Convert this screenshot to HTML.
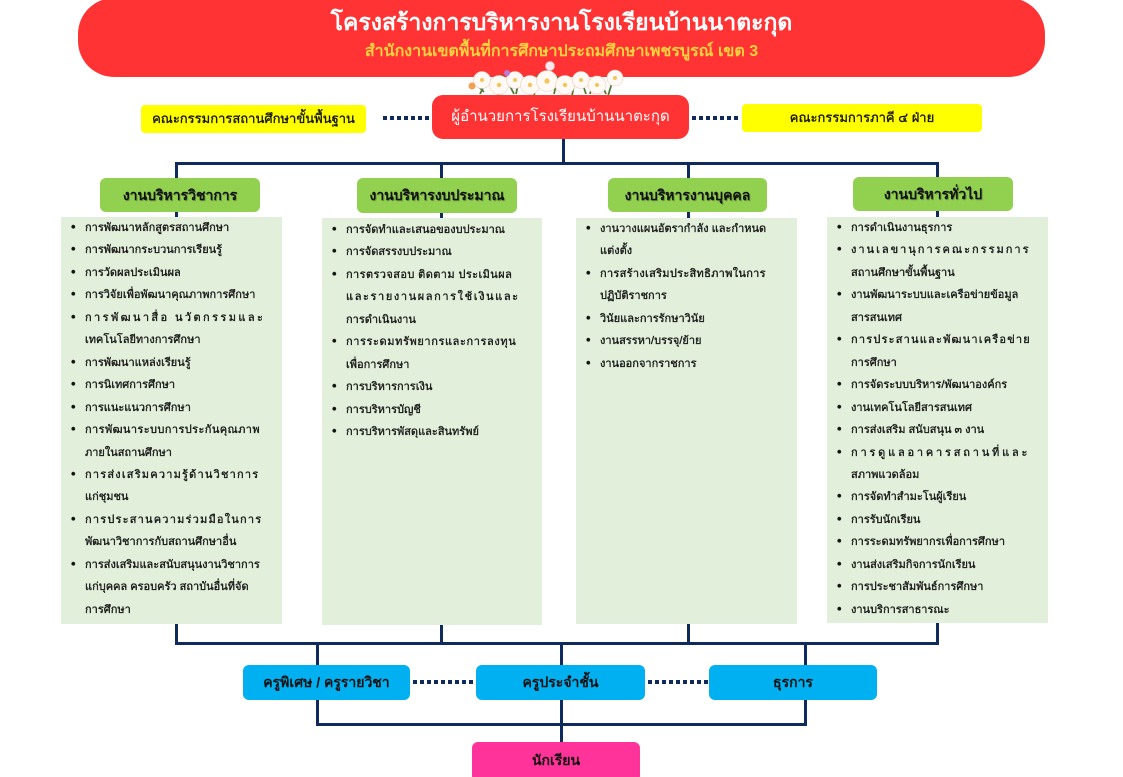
<!DOCTYPE html>
<html><head><meta charset="utf-8">
<style>
*{margin:0;padding:0;box-sizing:border-box}
html,body{width:1123px;height:777px;overflow:hidden;background:#fff}
body{position:relative;font-family:"Liberation Sans","Noto Sans CJK SC",sans-serif;color:#1a1a1a}
.a{position:absolute}
.ln{position:absolute;background:#0f2a5c}
.dot{position:absolute;height:4px;background:repeating-linear-gradient(90deg,#0f2a5c 0 4px,transparent 4px 7px)}
.banner{left:78px;top:-2px;width:967px;height:79px;background:#ff3333;border-radius:36px}
.t1{left:78px;width:967px;top:7px;text-align:center;color:#fff;font-size:23px;line-height:30px;font-weight:bold}
.t2{left:78px;width:967px;top:40px;text-align:center;color:#ffd23f;font-size:16px;line-height:24px;font-weight:bold}
.dir{left:432px;top:95px;width:257px;height:44px;background:#ff3333;border-radius:11px;color:#fff;font-size:15px;line-height:44px;text-align:center}
.yel{background:#ffff00;border-radius:4px;font-size:13px;text-align:center;color:#111;-webkit-text-stroke:.3px #111}
.hd{background:#92d050;border-radius:6px;height:34px;line-height:34px;text-align:center;font-weight:bold;font-size:14px;color:#111;text-shadow:1px 1px 0 rgba(0,0,0,.25)}
.box{background:#e2efda}
.list{position:absolute;font-size:11px;line-height:22.45px;color:#111;-webkit-text-stroke:.35px #222}
.list div{position:relative;padding-left:24px;white-space:nowrap}
.list div.b::before{content:"•";position:absolute;left:10px;top:-1px;font-size:13px}
.cy{background:#00b0f0;border-radius:6px;height:35px;line-height:35px;text-align:center;font-weight:bold;font-size:14px;color:#111}
.pk{background:#ff3399;border-radius:6px;height:40px;line-height:36px;text-align:center;font-weight:bold;font-size:14px;color:#111}
</style></head>
<body>

<div class="a banner"></div>
<div class="a t1">โครงสร้างการบริหารงานโรงเรียนบ้านนาตะกุด</div>
<div class="a t2">สำนักงานเขตพื้นที่การศึกษาประถมศึกษาเพชรบูรณ์ เขต 3</div>

<svg class="a" style="left:468px;top:60px" width="160" height="38" viewBox="0 0 160 38">
 <g stroke="#4f7a3a" stroke-width="1.8" fill="none">
  <path d="M12 34 L20 18 M30 36 L34 14 M48 34 L52 16 M66 36 L70 14 M86 34 L90 16 M104 36 L108 14 M122 34 L126 18 M140 36 L146 16"/>
  <path d="M6 22 L16 32 M40 22 L46 34 M58 20 L62 34 M96 20 L100 34 M114 22 L118 34 M132 20 L138 34"/>
 </g>
 <g fill="#fffaf5" stroke="#eacfc2" stroke-width=".6">
  <circle cx="14" cy="20" r="8.5"/><circle cx="31" cy="25" r="9.5"/><circle cx="47" cy="20" r="8.5"/>
  <circle cx="62" cy="25" r="9.5"/><circle cx="79" cy="21" r="10.5"/><circle cx="97" cy="25" r="9.5"/>
  <circle cx="113" cy="20" r="8.5"/><circle cx="129" cy="25" r="9"/><circle cx="147" cy="18" r="8"/>
  <circle cx="82" cy="6" r="4.5" fill="#fde8ee"/>
 </g>
 <g fill="#f3c55a">
  <circle cx="14" cy="20" r="2"/><circle cx="31" cy="25" r="2.2"/><circle cx="47" cy="20" r="2"/>
  <circle cx="62" cy="25" r="2.2"/><circle cx="79" cy="21" r="2.6"/><circle cx="97" cy="25" r="2.2"/>
  <circle cx="113" cy="20" r="2"/><circle cx="129" cy="25" r="2"/><circle cx="147" cy="18" r="2"/>
 </g>
 <circle cx="39" cy="13" r="3" fill="#b77ad6"/><circle cx="4" cy="26" r="3.5" fill="#f0a050"/>
</svg>

<!-- top row -->
<div class="a yel" style="left:141px;top:105px;width:225px;height:28px;line-height:28px">คณะกรรมการสถานศึกษาขั้นพื้นฐาน</div>
<div class="dot" style="left:383px;top:116px;width:48px"></div>
<div class="a dir">ผู้อำนวยการโรงเรียนบ้านนาตะกุด</div>
<div class="dot" style="left:692px;top:116px;width:48px"></div>
<div class="a yel" style="left:742px;top:104px;width:240px;height:28px;line-height:28px">คณะกรรมการภาคี ๔ ฝ่าย</div>

<!-- connectors top -->
<div class="ln" style="left:562px;top:139px;width:3px;height:25px"></div>
<div class="ln" style="left:175px;top:162px;width:764px;height:3px"></div>
<div class="ln" style="left:175px;top:162px;width:3px;height:56px"></div>
<div class="ln" style="left:440px;top:162px;width:3px;height:57px"></div>
<div class="ln" style="left:687px;top:162px;width:3px;height:57px"></div>
<div class="ln" style="left:936px;top:162px;width:3px;height:56px"></div>

<!-- headers -->
<div class="a hd" style="left:100px;top:178px;width:160px">งานบริหารวิชาการ</div>
<div class="a hd" style="left:357px;top:178px;width:160px;height:35px">งานบริหารงบประมาณ</div>
<div class="a hd" style="left:608px;top:178px;width:159px">งานบริหารงานบุคคล</div>
<div class="a hd" style="left:853px;top:177px;width:160px">งานบริหารทั่วไป</div>

<!-- content boxes -->
<div class="a box" style="left:61px;top:217px;width:221px;height:407px"></div>
<div class="a box" style="left:322px;top:218px;width:220px;height:407px"></div>
<div class="a box" style="left:576px;top:218px;width:221px;height:406px"></div>
<div class="a box" style="left:827px;top:217px;width:221px;height:406px"></div>

<div class="list" style="left:61px;top:217px;width:221px">
 <div class="b">การพัฒนาหลักสูตรสถานศึกษา</div>
 <div class="b">การพัฒนากระบวนการเรียนรู้</div>
 <div class="b">การวัดผลประเมินผล</div>
 <div class="b">การวิจัยเพื่อพัฒนาคุณภาพการศึกษา</div>
 <div class="b" style="letter-spacing:2.4px">การพัฒนาสื่อ นวัตกรรมและ</div>
 <div>เทคโนโลยีทางการศึกษา</div>
 <div class="b">การพัฒนาแหล่งเรียนรู้</div>
 <div class="b">การนิเทศการศึกษา</div>
 <div class="b">การแนะแนวการศึกษา</div>
 <div class="b" style="letter-spacing:.4px">การพัฒนาระบบการประกันคุณภาพ</div>
 <div>ภายในสถานศึกษา</div>
 <div class="b" style="letter-spacing:1.2px">การส่งเสริมความรู้ด้านวิชาการ</div>
 <div>แก่ชุมชน</div>
 <div class="b" style="letter-spacing:1.2px">การประสานความร่วมมือในการ</div>
 <div>พัฒนาวิชาการกับสถานศึกษาอื่น</div>
 <div class="b">การส่งเสริมและสนับสนุนงานวิชาการ</div>
 <div>แก่บุคคล ครอบครัว สถาบันอื่นที่จัด</div>
 <div>การศึกษา</div>
</div>

<div class="list" style="left:322px;top:219px;width:220px">
 <div class="b">การจัดทำและเสนอของบประมาณ</div>
 <div class="b">การจัดสรรงบประมาณ</div>
 <div class="b" style="letter-spacing:.4px">การตรวจสอบ ติดตาม ประเมินผล</div>
 <div style="letter-spacing:1.6px">และรายงานผลการใช้เงินและ</div>
 <div>การดำเนินงาน</div>
 <div class="b" style="letter-spacing:.6px">การระดมทรัพยากรและการลงทุน</div>
 <div>เพื่อการศึกษา</div>
 <div class="b">การบริหารการเงิน</div>
 <div class="b">การบริหารบัญชี</div>
 <div class="b">การบริหารพัสดุและสินทรัพย์</div>
</div>

<div class="list" style="left:576px;top:218px;width:221px">
 <div class="b">งานวางแผนอัตรากำลัง และกำหนด</div>
 <div>แต่งตั้ง</div>
 <div class="b" style="letter-spacing:.3px">การสร้างเสริมประสิทธิภาพในการ</div>
 <div>ปฏิบัติราชการ</div>
 <div class="b">วินัยและการรักษาวินัย</div>
 <div class="b">งานสรรหา/บรรจุ/ย้าย</div>
 <div class="b">งานออกจากราชการ</div>
</div>

<div class="list" style="left:827px;top:217px;width:221px">
 <div class="b">การดำเนินงานธุรการ</div>
 <div class="b" style="letter-spacing:2px">งานเลขานุการคณะกรรมการ</div>
 <div>สถานศึกษาขั้นพื้นฐาน</div>
 <div class="b">งานพัฒนาระบบและเครือข่ายข้อมูล</div>
 <div>สารสนเทศ</div>
 <div class="b" style="letter-spacing:1.2px">การประสานและพัฒนาเครือข่าย</div>
 <div>การศึกษา</div>
 <div class="b">การจัดระบบบริหาร/พัฒนาองค์กร</div>
 <div class="b">งานเทคโนโลยีสารสนเทศ</div>
 <div class="b">การส่งเสริม สนับสนุน ๓ งาน</div>
 <div class="b" style="letter-spacing:2.8px">การดูแลอาคารสถานที่และ</div>
 <div>สภาพแวดล้อม</div>
 <div class="b">การจัดทำสำมะโนผู้เรียน</div>
 <div class="b">การรับนักเรียน</div>
 <div class="b">การระดมทรัพยากรเพื่อการศึกษา</div>
 <div class="b">งานส่งเสริมกิจการนักเรียน</div>
 <div class="b">การประชาสัมพันธ์การศึกษา</div>
 <div class="b">งานบริการสาธารณะ</div>
</div>

<!-- connectors bottom -->
<div class="ln" style="left:175px;top:624px;width:3px;height:20px"></div>
<div class="ln" style="left:440px;top:625px;width:3px;height:19px"></div>
<div class="ln" style="left:687px;top:624px;width:3px;height:20px"></div>
<div class="ln" style="left:936px;top:623px;width:3px;height:21px"></div>
<div class="ln" style="left:175px;top:642px;width:764px;height:3px"></div>
<div class="ln" style="left:316px;top:642px;width:3px;height:24px"></div>
<div class="ln" style="left:560px;top:642px;width:3px;height:24px"></div>
<div class="ln" style="left:804px;top:642px;width:3px;height:24px"></div>
<div class="ln" style="left:316px;top:700px;width:3px;height:26px"></div>
<div class="ln" style="left:804px;top:700px;width:3px;height:26px"></div>
<div class="ln" style="left:316px;top:723px;width:491px;height:3px"></div>
<div class="ln" style="left:560px;top:700px;width:3px;height:42px"></div>

<div class="a cy" style="left:243px;top:665px;width:167px">ครูพิเศษ / ครูรายวิชา</div>
<div class="dot" style="left:413px;top:680px;width:62px"></div>
<div class="a cy" style="left:476px;top:665px;width:169px">ครูประจำชั้น</div>
<div class="dot" style="left:648px;top:680px;width:60px"></div>
<div class="a cy" style="left:709px;top:665px;width:168px">ธุรการ</div>
<div class="a pk" style="left:472px;top:742px;width:168px">นักเรียน</div>

</body></html>
